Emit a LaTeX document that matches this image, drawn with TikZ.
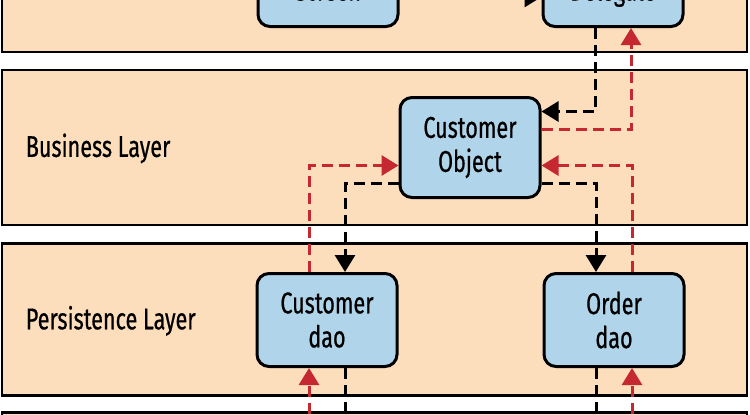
\documentclass[tikz,border=0pt]{standalone}
\usepackage{fontspec}
\setmainfont[FakeStretch=0.72,FakeBold=0.6]{Fira Sans}
\usetikzlibrary{arrows.meta,positioning}
\definecolor{cPeach}{RGB}{252,222,188}
\definecolor{cSky}{RGB}{176,212,234}
\definecolor{cArrRed}{RGB}{198,40,50}
\newcommand{\boxfont}{\fontsize{30}{34}\selectfont}
\tikzset{
  layerbox/.style={rectangle,draw=black,line width=2.8pt,fill=cPeach,
                   minimum width=745pt,inner sep=0pt},
  layerlabel/.style={anchor=west,font=\boxfont,inner sep=0pt},
  compbox/.style={rectangle,rounded corners=12pt,draw=black,line width=3pt,
                  fill=cSky,align=center,font=\boxfont,
                  minimum width=140pt,minimum height=93pt},
  reqarr/.style={-{Triangle[length=17pt,width=20pt]},line width=3pt,
                 dash pattern=on 11pt off 6pt,color=black},
  resarr/.style={-{Triangle[length=17pt,width=20pt]},line width=3pt,
                 dash pattern=on 11pt off 6pt,color=cArrRed}
}

\begin{document}
\begin{tikzpicture}[x=1pt,y=-1pt]
  \useasboundingbox (0,0) rectangle (750,415);
  \clip (0,0) rectangle (750,415);
  \fill[white] (0,0) rectangle (750,415);
  % layers
  \node[layerbox,minimum height=202pt] (uilayer) at (374.5,-49) {};
  \node[layerbox,minimum height=155pt] (bizlayer) at (374.5,147.4) {};
  \node[layerbox,minimum height=152pt] (perslayer) at (374.5,319.8) {};
  \node[layerbox,minimum height=187pt] (dblayer) at (374.5,506) {};
  \node[layerlabel] (bizlabel) at ([xshift=25pt,yshift=-1pt]bizlayer.west) {Business Layer};
  \node[layerlabel] (perslabel) at ([xshift=25pt,yshift=-1pt]perslayer.west) {Persistence Layer};

  % components
  \node[compbox] (screen) at (328,-20) {\vphantom{C}\\\raisebox{7pt}{Screen}};
  \node[compbox,right=142pt of screen] (delegate) {\vphantom{C}\\\raisebox{7pt}{Delegate}};
  \node[compbox,minimum height=100pt] (custobj) at (470,147.5) {Customer\\Object};
  \node[compbox] (custdao) at (327,320) {Customer\\dao};
  \node[compbox,right=144pt of custdao] (orderdao) {Order\\dao};

  \coordinate (custdbout) at ([xshift=18pt,yshift=-80pt]custdao.south);
  \coordinate (custdbin) at ([xshift=-18pt,yshift=-80pt]custdao.south);
  \coordinate (orderdbout) at ([xshift=-18pt,yshift=-80pt]orderdao.south);
  \coordinate (orderdbin) at ([xshift=18pt,yshift=-80pt]orderdao.south);

  % requests (black) and responses (red)
  \draw[reqarr] ([yshift=-17pt]screen.east) -- ([yshift=-17pt]delegate.west);
  \draw[reqarr] ([xshift=-18pt]delegate.south) |- ([yshift=36pt]custobj.east);
  \draw[resarr] ([yshift=18pt]custobj.east) -| ([xshift=18pt]delegate.south);
  \draw[reqarr] ([yshift=-36pt]custobj.east) -| ([xshift=-18pt]orderdao.north);
  \draw[resarr] ([xshift=18pt]orderdao.north) |- ([yshift=-18pt]custobj.east);
  \draw[reqarr] ([yshift=-36pt]custobj.west) -| ([xshift=18pt]custdao.north);
  \draw[resarr] ([xshift=-18pt]custdao.north) |- ([yshift=-18pt]custobj.west);
  \draw[reqarr] ([xshift=18pt]custdao.south) -- (custdbout);
  \draw[resarr] (custdbin) -- ([xshift=-18pt]custdao.south);
  \draw[reqarr] ([xshift=-18pt]orderdao.south) -- (orderdbout);
  \draw[resarr] (orderdbin) -- ([xshift=18pt]orderdao.south);
\end{tikzpicture}
\end{document}
